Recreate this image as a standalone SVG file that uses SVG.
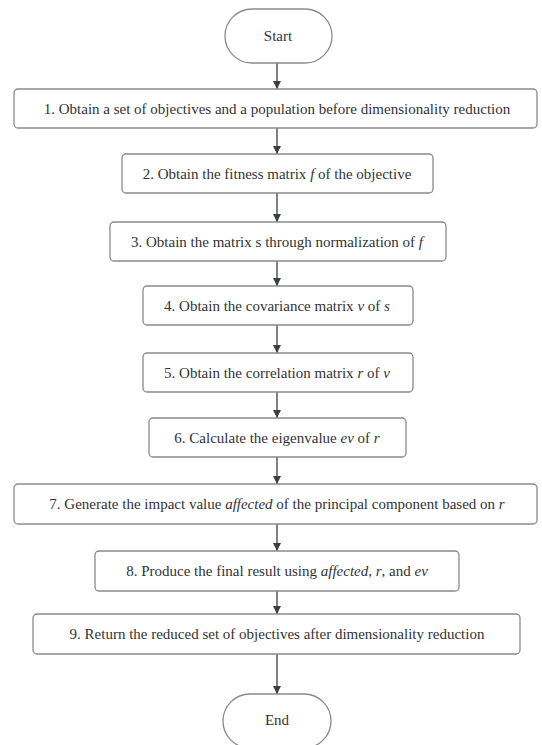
<svg xmlns="http://www.w3.org/2000/svg" width="542" height="745" viewBox="0 0 542 745">
<style>
.box{fill:#fff;stroke:#8a8a8a;stroke-width:1.3}
.t{font-family:"Liberation Serif","Times New Roman",serif;font-size:15px;fill:#333;text-anchor:middle;dominant-baseline:central}
.i{font-style:italic}
.c{stroke:#3a3f47;stroke-width:1.3;fill:none;marker-end:url(#ah)}
</style>
<defs>
<marker id="ah" viewBox="0 0 10 10" refX="10" refY="5" markerWidth="8" markerHeight="10" markerUnits="userSpaceOnUse" orient="auto">
<path d="M0,0 L10,5 L0,10 Z" fill="#3a3f47"/>
</marker>
</defs>
<rect width="542" height="745" fill="#fff"/>
<g id="connectors">
<line class="c" x1="277" y1="63" x2="277" y2="89"/>
<line class="c" x1="277" y1="128" x2="277" y2="154"/>
<line class="c" x1="277" y1="193" x2="277" y2="222"/>
<line class="c" x1="277" y1="261" x2="277" y2="286"/>
<line class="c" x1="277" y1="325" x2="277" y2="353"/>
<line class="c" x1="277" y1="392" x2="277" y2="418"/>
<line class="c" x1="277" y1="457" x2="277" y2="484"/>
<line class="c" x1="277" y1="524" x2="277" y2="551"/>
<line class="c" x1="277" y1="591" x2="277" y2="614"/>
<line class="c" x1="277" y1="654" x2="277" y2="694"/>
</g>
<g id="start">
<rect class="box" x="225" y="9" width="107" height="54" rx="27"/>
<text class="t" x="278" y="36">Start</text>
</g>
<g id="step1">
<rect class="box" x="14" y="89" width="523" height="39" rx="4"/>
<text class="t" x="277" y="108.5">1. Obtain a set of objectives and a population before dimensionality reduction</text>
</g>
<g id="step2">
<rect class="box" x="122" y="154" width="311" height="39" rx="4"/>
<text class="t" x="277" y="173.5">2. Obtain the fitness matrix <tspan class="i">f</tspan> of the objective</text>
</g>
<g id="step3">
<rect class="box" x="110" y="222" width="336" height="39" rx="4"/>
<text class="t" x="277" y="241.5">3. Obtain the matrix s through normalization of <tspan class="i">f</tspan></text>
</g>
<g id="step4">
<rect class="box" x="143" y="286" width="270" height="39" rx="4"/>
<text class="t" x="277" y="305.5">4. Obtain the covariance matrix <tspan class="i">v</tspan> of <tspan class="i">s</tspan></text>
</g>
<g id="step5">
<rect class="box" x="143" y="353" width="270" height="39" rx="4"/>
<text class="t" x="277" y="372.5">5. Obtain the correlation matrix <tspan class="i">r</tspan> of <tspan class="i">v</tspan></text>
</g>
<g id="step6">
<rect class="box" x="149" y="418" width="257" height="39" rx="4"/>
<text class="t" x="277" y="437.5">6. Calculate the eigenvalue <tspan class="i">ev</tspan> of <tspan class="i">r</tspan></text>
</g>
<g id="step7">
<rect class="box" x="14" y="484" width="523" height="40" rx="4"/>
<text class="t" x="277" y="504">7. Generate the impact value <tspan class="i">affected</tspan> of the principal component based on <tspan class="i">r</tspan></text>
</g>
<g id="step8">
<rect class="box" x="95" y="551" width="364" height="40" rx="4"/>
<text class="t" x="277" y="571">8. Produce the final result using <tspan class="i">affected</tspan>, <tspan class="i">r</tspan>, and <tspan class="i">ev</tspan></text>
</g>
<g id="step9">
<rect class="box" x="33" y="614" width="487" height="40" rx="4"/>
<text class="t" x="277" y="634">9. Return the reduced set of objectives after dimensionality reduction</text>
</g>
<g id="end">
<rect class="box" x="223" y="694" width="108" height="54" rx="27"/>
<text class="t" x="277" y="720">End</text>
</g>
</svg>
